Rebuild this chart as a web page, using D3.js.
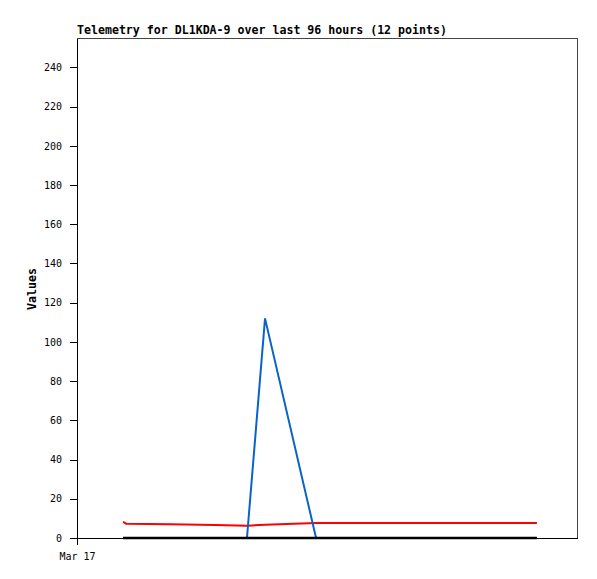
<!DOCTYPE html>
<html>
<head>
<meta charset="utf-8">
<script src="https://cdn.jsdelivr.net/npm/d3@7"></script>
<style>
  body { margin: 0; background: #fff; }
  svg { display: block; }
</style>
</head>
<body>
<div id="chart"></div>
<script>
const title = "Telemetry for DL1KDA-9 over last 96 hours (12 points)";
const yLabel = "Values";
const times = [
  "2024-03-17T08:50", "2024-03-17T09:25", "2024-03-17T17:52", "2024-03-18T02:30",
  "2024-03-18T08:38", "2024-03-18T12:06", "2024-03-18T21:54", "2024-03-19T06:18",
  "2024-03-19T15:54", "2024-03-20T01:30", "2024-03-20T09:12", "2024-03-20T16:18"
];
const seriesRed   = [8.3, 7.3, 7.0, 6.6, 6.3, 6.8, 7.7, 7.7, 7.7, 7.7, 7.7, 7.7];
const seriesBlue  = [0, 0, 0, 0, 0, 112, 0, 0, 0, 0, 0, 0];
const seriesBlack = [0, 0, 0, 0, 0, 0, 0, 0, 0, 0, 0, 0];
const yTicks = [0, 20, 40, 60, 80, 100, 120, 140, 160, 180, 200, 220, 240];
const xTickLabels = ["Mar 17"];
const xDomain = ["2024-03-17T00:00", "2024-03-21T00:00"];

const W = 597, H = 579;
const m = { left: 77, right: 20, top: 38, bottom: 41 };
const parse = d3.isoParse;
const svg = d3.select("#chart").append("svg").attr("width", W).attr("height", H);

const x = d3.scaleTime().domain(xDomain.map(parse)).range([m.left, W - m.right]);
const y = d3.scaleLinear().domain([0, 255]).range([H - m.bottom, m.top]);

const mono = "'DejaVu Sans Mono', 'Liberation Mono', monospace";

// frame (top/right)
svg.append("path")
  .attr("d", `M${m.left},${m.top}H${W - m.right}V${H - m.bottom}`)
  .attr("fill", "none").attr("stroke", "#444").attr("stroke-width", 1)
  .attr("shape-rendering", "crispEdges");

// y axis
const yAxis = svg.append("g").attr("transform", `translate(${m.left},0)`)
  .call(d3.axisLeft(y).tickValues(yTicks).tickSize(7).tickPadding(8).tickSizeOuter(0));
yAxis.select(".domain").attr("stroke", "#000").attr("shape-rendering", "crispEdges");
yAxis.selectAll(".tick line").attr("stroke", "#000").attr("shape-rendering", "crispEdges");
yAxis.selectAll("text").attr("font-family", mono).attr("font-size", 10).attr("fill", "#000");

// x axis
const xAxis = svg.append("g").attr("transform", `translate(0,${H - m.bottom})`)
  .call(d3.axisBottom(x).tickValues([parse(xDomain[0])]).tickFormat((d, i) => xTickLabels[i])
    .tickSize(7).tickPadding(8).tickSizeOuter(0));
xAxis.select(".domain").attr("stroke", "#000").attr("shape-rendering", "crispEdges");
xAxis.selectAll(".tick line").attr("stroke", "#000").attr("shape-rendering", "crispEdges");
xAxis.selectAll("text").attr("font-family", mono).attr("font-size", 10).attr("fill", "#000");

// title
svg.append("text").attr("x", m.left).attr("y", 34)
  .attr("font-family", mono).attr("font-weight", "bold").attr("font-size", 11.6)
  .text(title);

// y label
svg.append("text")
  .attr("transform", `translate(36,${(m.top + H - m.bottom) / 2 + 1}) rotate(-90)`)
  .attr("text-anchor", "middle")
  .attr("font-family", mono).attr("font-weight", "bold").attr("font-size", 11.6)
  .text(yLabel);

const data = times.map((t, i) => ({ t: parse(t), r: seriesRed[i], b: seriesBlue[i], k: seriesBlack[i] }));
const mk = key => d3.line().x(d => x(d.t)).y(d => y(d[key]));

svg.append("path").datum(data).attr("d", mk("r"))
  .attr("fill", "none").attr("stroke", "#ff0000").attr("stroke-width", 2);
svg.append("path").datum(data).attr("d", mk("b"))
  .attr("fill", "none").attr("stroke", "#0a64c8").attr("stroke-width", 2);
svg.append("path").datum(data).attr("d", mk("k"))
  .attr("fill", "none").attr("stroke", "#000").attr("stroke-width", 2.5);
</script>
</body>
</html>
